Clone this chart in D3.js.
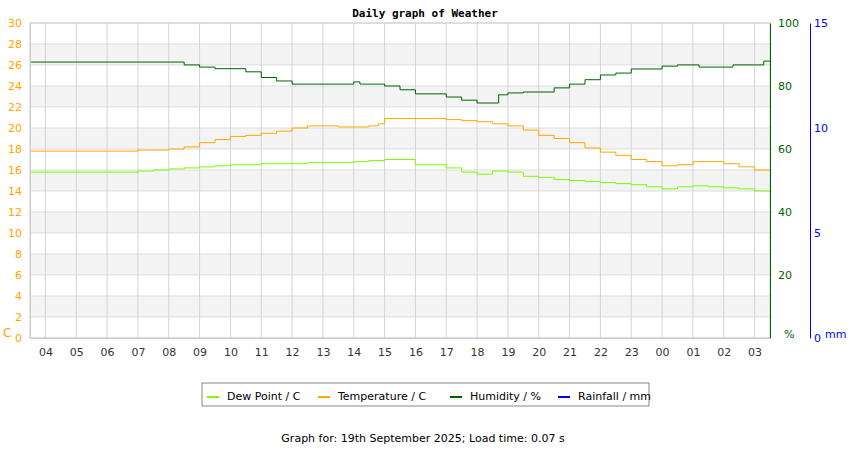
<!DOCTYPE html><html><head><meta charset="utf-8"><script src="https://cdn.jsdelivr.net/npm/d3@7"></script>
<style>body{margin:0;background:#fff}text{font-family:"DejaVu Sans",sans-serif}</style></head><body><svg id="c" width="850" height="450"></svg><script>
// [hour since 00:00 of day 1, value]
const hourLabels=["04","05","06","07","08","09","10","11","12","13","14","15","16","17","18","19","20","21","22","23","00","01","02","03"];
const temperature=[[3.5,17.8],[7,17.9],[8,18.0],[8.5,18.2],[9,18.6],[9.5,18.9],[10,19.2],[10.5,19.3],[11,19.5],[11.5,19.7],[12,20.0],[12.5,20.2],[13.5,20.1],[14.5,20.2],[14.8,20.4],[15,20.9],[17,20.8],[17.5,20.7],[18,20.6],[18.5,20.4],[19,20.2],[19.5,19.8],[20,19.3],[20.5,19.0],[21,18.6],[21.5,18.1],[22,17.7],[22.5,17.4],[23,17.0],[23.5,16.8],[24,16.4],[24.5,16.5],[25,16.8],[26,16.6],[26.5,16.3],[27,16.0],[27.5,15.9]];
const dewPoint=[[3.5,15.8],[7,15.9],[7.5,16.0],[8,16.1],[8.5,16.2],[9,16.3],[9.5,16.4],[10,16.5],[11,16.6],[12.5,16.7],[14,16.8],[14.5,16.9],[15,17.0],[16,16.5],[17,16.2],[17.5,15.8],[18,15.6],[18.5,15.9],[19,15.8],[19.5,15.4],[20,15.3],[20.5,15.1],[21,15.0],[21.5,14.9],[22,14.8],[22.5,14.7],[23,14.6],[23.5,14.4],[24,14.2],[24.5,14.4],[25,14.5],[25.5,14.4],[26,14.3],[26.5,14.2],[27,14.0],[27.5,13.9]];
const humidity=[[3.5,87.6],[8.5,86.7],[9,86.0],[9.5,85.5],[10.5,84.5],[11,82.7],[11.5,81.6],[12,80.6],[14,81.3],[14.2,80.6],[15,80.0],[15.5,78.8],[16,77.5],[17,76.5],[17.5,75.5],[18,74.6],[18.7,77.2],[19,77.8],[19.5,78.1],[20,78.1],[20.5,79.4],[21,80.6],[21.5,82.0],[22,83.5],[22.5,84.1],[23,85.4],[24,86.3],[24.5,86.7],[25.2,86.0],[26,86.0],[26.3,86.7],[27,86.7],[27.3,87.9],[27.5,87.9]];
const rainfall=[0];
const legendNames=["Dew Point / C","Temperature / C","Humidity / %","Rainfall / mm"];
const colors=["#7cfc00","#ffa500","#006400","#0000ff"];

const svg=d3.select("#c");
const L=30,R=770,T=23,B=338;
const x=d3.scaleLinear().domain([3.5,27.5]).range([L,R]);
const yT=d3.scaleLinear().domain([0,30]).range([B,T]);
const yH=d3.scaleLinear().domain([0,100]).range([B,T]);
const yR=d3.scaleLinear().domain([0,15]).range([B,T]);
for(let v=2;v<28;v+=4) svg.append("rect").attr("x",L).attr("width",R-L).attr("y",yT(v+2)).attr("height",yT(v)-yT(v+2)).attr("fill","#f4f4f4");
d3.range(0,31,2).forEach(v=>svg.append("line").attr("x1",L).attr("x2",R).attr("y1",yT(v)).attr("y2",yT(v)).attr("stroke","#ddd"));
d3.range(4,28).forEach(h=>svg.append("line").attr("x1",x(h)).attr("x2",x(h)).attr("y1",T).attr("y2",B).attr("stroke","#d4d4d4"));
svg.append("rect").attr("x",L).attr("y",T).attr("width",R-L).attr("height",B-T).attr("fill","none").attr("stroke","#ccc");
const line=(ys,s)=>d3.line().x(d=>x(d[0])).y(d=>ys(d[1])).curve(d3.curveStepAfter)(s);
svg.append("path").attr("d",line(yT,dewPoint)).attr("fill","none").attr("stroke",colors[0]);
svg.append("path").attr("d",line(yT,temperature)).attr("fill","none").attr("stroke",colors[1]);
svg.append("path").attr("d",line(yH,humidity)).attr("fill","none").attr("stroke",colors[2]);
const la=svg.append("g").attr("transform",`translate(${L},0)`).call(d3.axisLeft(yT).tickValues(d3.range(0,31,2)).tickSize(0).tickPadding(8));
la.selectAll("text").attr("fill","#ffa500").attr("font-size",11);la.select(".domain").attr("stroke","#ccc");
svg.append("text").attr("x",3).attr("y",337).attr("fill","#ffa500").attr("font-size",12).text("C");
const ha=svg.append("g").attr("transform",`translate(${R},0)`).call(d3.axisRight(yH).tickValues([20,40,60,80,100]).tickSize(0).tickPadding(8));
ha.selectAll("text").attr("fill","#006400").attr("font-size",11);ha.select(".domain").attr("stroke","#006400");
svg.append("text").attr("x",784).attr("y",338).attr("fill","#006400").attr("font-size",11).text("%");
const ra=svg.append("g").attr("transform",`translate(810,0)`).call(d3.axisRight(yR).tickValues([0,5,10,15]).tickSize(0).tickPadding(4));
ra.selectAll("text").attr("fill","#0000ff").attr("font-size",11);ra.select(".domain").attr("stroke","#0000ff");
svg.append("text").attr("x",825).attr("y",338).attr("fill","#0000ff").attr("font-size",11).text("mm");
const xa=svg.append("g").attr("transform",`translate(0,${B})`).call(d3.axisBottom(x).tickValues(d3.range(4,28)).tickFormat((d,i)=>hourLabels[i]).tickSize(0).tickPadding(10));
xa.selectAll("text").attr("fill","#333").attr("font-size",11);xa.select(".domain").attr("stroke","#ccc");
svg.append("text").attr("x",425).attr("y",17).attr("text-anchor","middle").style("font-family","'DejaVu Sans Mono',monospace").attr("font-weight","bold").attr("font-size",11).text("Daily graph of Weather");
svg.append("rect").attr("x",202).attr("y",383).attr("width",447).attr("height",23).attr("fill","#fff").attr("stroke","#888");
const lx=[207,318,450,558];
legendNames.forEach((n,i)=>{svg.append("line").attr("x1",lx[i]).attr("x2",lx[i]+12).attr("y1",397).attr("y2",397).attr("stroke",colors[i]).attr("stroke-width",2);
svg.append("text").attr("x",lx[i]+20).attr("y",400).attr("font-size",11).attr("fill","#000").text(n);});
svg.append("text").attr("x",423).attr("y",442).attr("text-anchor","middle").attr("font-size",11).text("Graph for: 19th September 2025; Load time: 0.07 s");
</script></body></html>
